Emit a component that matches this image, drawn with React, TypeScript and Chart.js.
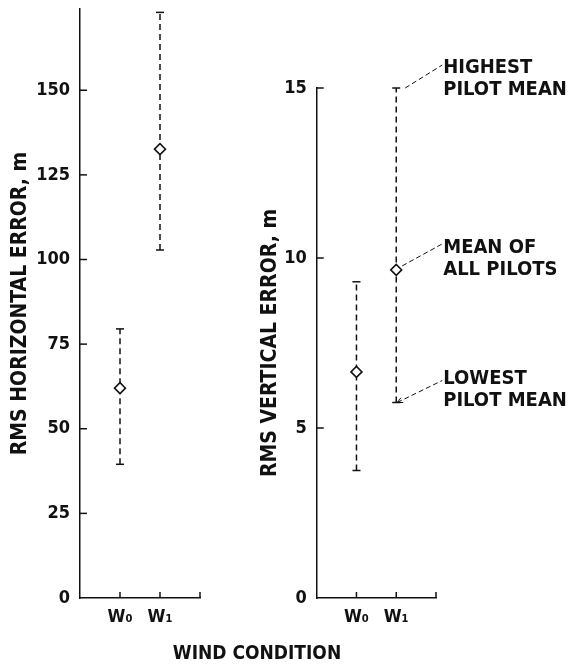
import React, { useEffect, useRef } from 'react';
import { Chart, registerables } from 'chart.js';

Chart.register(...registerables);

// ---- data ----
const categories = ['W₀', 'W₁'];
const categoryPositions = [1, 2];

const horizMean = [62, 132.6];
const horizLow = [39.5, 102.8];
const horizHigh = [79.5, 173];
const horizTicks = [0, 25, 50, 75, 100, 125, 150];

const vertMean = [6.65, 9.65];
const vertLow = [3.75, 5.75];
const vertHigh = [9.3, 15];
const vertTicks = [0, 5, 10, 15];

const annotationLines = [
  ['HIGHEST', 'PILOT MEAN'],
  ['MEAN OF', 'ALL PILOTS'],
  ['LOWEST', 'PILOT MEAN'],
];

// ---- style ----
const INK = '#111111';
const FONT = 'DejaVu Sans Condensed';
const WEIGHT = 'bold';

type PanelSpec = {
  means: number[];
  lows: number[];
  highs: number[];
  ticks: number[];
  yMax: number;
  title: string;
  width: number;
  yAxisWidth: number;
  padTop: number;
  padRight: number;
  annotate: boolean;
};

const inwardTicks = {
  id: 'inwardTicks',
  afterDraw(chart: any) {
    const { ctx, chartArea, scales } = chart;
    const x = scales.x;
    const y = scales.y;
    ctx.save();
    ctx.strokeStyle = INK;
    ctx.lineWidth = 1.5;
    y.ticks.forEach((t: any) => {
      if (t.value === 0) return;
      const py = y.getPixelForValue(t.value);
      ctx.beginPath();
      ctx.moveTo(chartArea.left, py);
      ctx.lineTo(chartArea.left + 7, py);
      ctx.stroke();
    });
    [...categoryPositions, x.max].forEach((v: number) => {
      const px = x.getPixelForValue(v);
      ctx.beginPath();
      ctx.moveTo(px, chartArea.bottom);
      ctx.lineTo(px, chartArea.bottom - 6);
      ctx.stroke();
    });
    ctx.restore();
  },
};

const annotationPlugin = {
  id: 'pilotAnnotations',
  afterDraw(chart: any) {
    const opts = chart.options.plugins.pilotAnnotations;
    if (!opts || !opts.enabled) return;
    const { ctx, scales } = chart;
    const x = scales.x;
    const y = scales.y;
    const i = 1;
    const px = x.getPixelForValue(categoryPositions[i]);
    const targets = [
      { py: y.getPixelForValue(vertHigh[i]), sx: 9, sy: 0, ex: 46, ey: -23, ty: -20.5, arrow: false },
      { py: y.getPixelForValue(vertMean[i]), sx: 6, sy: -4, ex: 46, ey: -26, ty: -22.5, arrow: false },
      { py: y.getPixelForValue(vertLow[i]), sx: 1, sy: 0, ex: 46, ey: -22, ty: -24, arrow: true },
    ];
    ctx.save();
    targets.forEach((t, k) => {
      const x0 = px + t.sx;
      const y0 = t.py + t.sy;
      const x1 = px + t.ex;
      const y1 = t.py + t.ey;
      ctx.strokeStyle = INK;
      ctx.lineWidth = 1;
      ctx.setLineDash([5, 3]);
      ctx.beginPath();
      ctx.moveTo(x0, y0);
      ctx.lineTo(x1, y1);
      ctx.stroke();
      ctx.setLineDash([]);
      if (t.arrow) {
        const ang = Math.atan2(y0 - y1, x0 - x1);
        const L = 6;
        ctx.beginPath();
        ctx.moveTo(x0, y0);
        ctx.lineTo(x0 - L * Math.cos(ang - 0.45), y0 - L * Math.sin(ang - 0.45));
        ctx.moveTo(x0, y0);
        ctx.lineTo(x0 - L * Math.cos(ang + 0.45), y0 - L * Math.sin(ang + 0.45));
        ctx.stroke();
      }
      ctx.fillStyle = INK;
      ctx.font = `${WEIGHT} 20px "${FONT}"`;
      ctx.textAlign = 'left';
      ctx.textBaseline = 'middle';
      const lines = annotationLines[k];
      ctx.fillText(lines[0], px + 47, t.py + t.ty);
      ctx.fillText(lines[1], px + 47, t.py + t.ty + 22);
    });
    ctx.restore();
  },
};

function buildConfig(p: PanelSpec): any {
  const meanData = categoryPositions.map((cx, i) => ({ x: cx, y: p.means[i] }));
  const bars = categoryPositions.map((cx, i) => ({
    type: 'line',
    data: [
      { x: cx, y: p.lows[i] },
      { x: cx, y: p.highs[i] },
    ],
    borderColor: INK,
    borderWidth: 1.5,
    borderDash: [6, 4],
    pointStyle: 'line',
    pointRadius: 4,
    pointBorderWidth: 1.5,
    pointBorderColor: INK,
    pointBackgroundColor: INK,
    showLine: true,
    fill: false,
    clip: false,
  }));
  return {
    type: 'scatter',
    data: {
      datasets: [
        {
          data: meanData,
          pointStyle: 'rectRot',
          pointRadius: 5.5,
          pointBorderWidth: 1.5,
          pointBorderColor: INK,
          pointBackgroundColor: '#ffffff',
          showLine: false,
          clip: false,
        },
        ...bars,
      ],
    },
    options: {
      animation: false,
      responsive: false,
      events: [],
      layout: { padding: { top: p.padTop, right: p.padRight, left: 0, bottom: 0 } },
      plugins: {
        legend: { display: false },
        tooltip: { enabled: false },
        pilotAnnotations: { enabled: p.annotate },
      },
      scales: {
        x: {
          type: 'linear',
          min: 0,
          max: 3,
          grid: { display: false, drawTicks: false },
          border: { display: true, color: INK, width: 1.5 },
          afterBuildTicks: (s: any) => {
            s.ticks = categoryPositions.map((v) => ({ value: v }));
          },
          afterFit: (s: any) => {
            s.height = 72;
            s.paddingLeft = 0;
            s.paddingRight = 0;
          },
          ticks: {
            autoSkip: false,
            maxRotation: 0,
            padding: 9,
            color: INK,
            font: { family: FONT, size: 18, weight: WEIGHT },
            callback: (v: number) => {
              const idx = categoryPositions.indexOf(v);
              return idx >= 0 ? categories[idx] : '';
            },
          },
        },
        y: {
          type: 'linear',
          min: 0,
          max: p.yMax,
          grid: { display: false, drawTicks: false },
          border: { display: true, color: INK, width: 1.5 },
          afterBuildTicks: (s: any) => {
            s.ticks = p.ticks.map((v) => ({ value: v }));
          },
          afterFit: (s: any) => {
            s.width = p.yAxisWidth;
            s.paddingTop = 0;
            s.paddingBottom = 0;
          },
          ticks: {
            padding: 10,
            color: INK,
            font: { family: FONT, size: 18, weight: WEIGHT },
          },
          title: {
            display: true,
            text: p.title,
            color: INK,
            font: { family: FONT, size: 21, weight: WEIGHT },
            padding: { top: 8, bottom: 0 },
          },
        },
      },
    },
    plugins: [inwardTicks, annotationPlugin],
  };
}

function Panel({ spec, left }: { spec: PanelSpec; left: number }) {
  const ref = useRef<HTMLCanvasElement | null>(null);
  useEffect(() => {
    if (!ref.current) return;
    const chart = new Chart(ref.current, buildConfig(spec));
    return () => chart.destroy();
  }, []);
  return (
    <canvas
      ref={ref}
      width={spec.width}
      height={670}
      style={{ position: 'absolute', left, top: 0, width: spec.width, height: 670, display: 'block' }}
    />
  );
}

const leftSpec: PanelSpec = {
  means: horizMean,
  lows: horizLow,
  highs: horizHigh,
  ticks: horizTicks,
  yMax: 174,
  title: 'RMS HORIZONTAL ERROR, m',
  width: 250,
  yAxisWidth: 80,
  padTop: 9,
  padRight: 50,
  annotate: false,
};

const rightSpec: PanelSpec = {
  means: vertMean,
  lows: vertLow,
  highs: vertHigh,
  ticks: vertTicks,
  yMax: 15,
  title: 'RMS VERTICAL ERROR, m',
  width: 324,
  yAxisWidth: 66.7,
  padTop: 88,
  padRight: 138,
  annotate: true,
};

export default function App() {
  return (
    <div
      style={{
        position: 'fixed',
        left: 0,
        top: 0,
        width: 574,
        height: 670,
        background: '#ffffff',
        overflow: 'hidden',
      }}
    >
      <Panel spec={leftSpec} left={0} />
      <Panel spec={rightSpec} left={250} />
      <div
        style={{
          position: 'absolute',
          left: 0,
          width: 514,
          top: 641,
          textAlign: 'center',
          fontFamily: `"${FONT}"`,
          fontWeight: WEIGHT,
          fontSize: 19,
          lineHeight: '22px',
          color: INK,
        }}
      >
        WIND CONDITION
      </div>
    </div>
  );
}
